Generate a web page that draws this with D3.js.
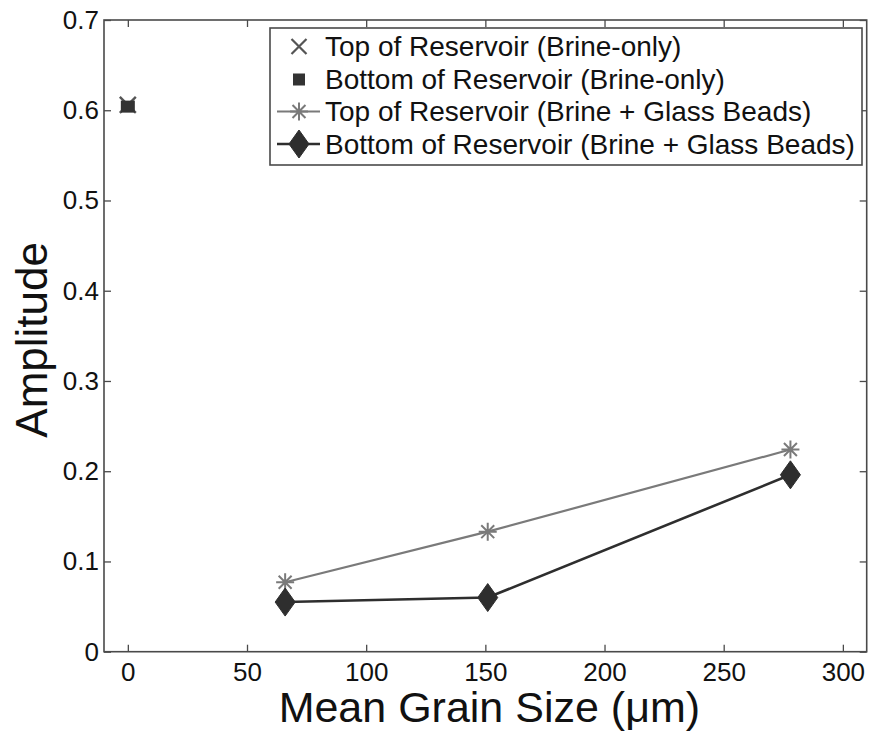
<!DOCTYPE html>
<html>
<head>
<meta charset="utf-8">
<script src="https://cdn.jsdelivr.net/npm/d3@7"></script>
<style>
  body { margin: 0; background: #fff; }
  svg text { font-family: Arial, "Liberation Sans", sans-serif; fill: #111; }
</style>
</head>
<body>
<div id="chart"></div>
<script>
// data
const brineX = [0];
const brineTop = [0.606];
const brineBottom = [0.604];

const grainSize = [66, 151, 278];
const beadsTop = [0.077, 0.133, 0.224];
const beadsBottom = [0.055, 0.060, 0.196];

const xTicks = [0, 50, 100, 150, 200, 250, 300];
const yTicks = [0, 0.1, 0.2, 0.3, 0.4, 0.5, 0.6, 0.7];

const legendLabels = [
    "Top of Reservoir (Brine-only)",
    "Bottom of Reservoir (Brine-only)",
    "Top of Reservoir (Brine + Glass Beads)",
    "Bottom of Reservoir (Brine + Glass Beads)"
];

const margin = {top: 20, right: 4.3, bottom: 82.3, left: 104};
const W = 871, H = 734;
const width = W - margin.left - margin.right;
const height = H - margin.top - margin.bottom;

const frameColor = "#4a4a4a";
const topColor = "#7a7a7a";
const bottomColor = "#2e2e2e";

const svg = d3.select("#chart").append("svg")
    .attr("width", W)
    .attr("height", H);

const g = svg.append("g")
    .attr("transform", "translate(" + margin.left + "," + margin.top + ")");

const x = d3.scaleLinear().domain([-10, 310]).range([0, width]);
const y = d3.scaleLinear().domain([0, 0.7]).range([height, 0]);

// marker shapes
function crossPath(s) {
    return "M" + (-s) + "," + (-s) + "L" + s + "," + s + "M" + (-s) + "," + s + "L" + s + "," + (-s);
}
function starPath(s) {
    let d = "M" + (-s) + ",0L" + s + ",0M0," + (-s) + "L0," + s;
    let k = s * 0.72;
    d += "M" + (-k) + "," + (-k) + "L" + k + "," + k + "M" + (-k) + "," + k + "L" + k + "," + (-k);
    return d;
}
function diamondPath(w, h) {
    return "M0," + (-h) + "L" + w + ",0L0," + h + "L" + (-w) + ",0Z";
}

// axes (box with inward ticks on all sides)
const tickLen = 7;
g.append("g")
    .attr("class", "x-axis axis")
    .attr("transform", "translate(0," + height + ")")
    .call(d3.axisBottom(x).tickValues(xTicks).tickSizeInner(-tickLen).tickSizeOuter(0).tickPadding(11));
g.append("g")
    .attr("class", "x-axis-top axis")
    .call(d3.axisTop(x).tickValues(xTicks).tickSizeInner(-tickLen).tickSizeOuter(0).tickFormat(""));
g.append("g")
    .attr("class", "y-axis axis")
    .call(d3.axisLeft(y).tickValues(yTicks).tickSizeInner(-tickLen).tickSizeOuter(0).tickPadding(5)
        .tickFormat(d => d === 0 ? "0" : d3.format(".1f")(d)));
g.append("g")
    .attr("class", "y-axis-right axis")
    .attr("transform", "translate(" + width + ",0)")
    .call(d3.axisRight(y).tickValues(yTicks).tickSizeInner(-tickLen).tickSizeOuter(0).tickFormat(""));

g.selectAll(".axis path.domain").remove();
g.selectAll(".axis line").attr("stroke", frameColor).attr("stroke-width", 1.3);
g.selectAll(".axis text")
    .attr("font-size", 26)
    .attr("fill", "#1a1a1a")
    .style("font-family", "Arial, 'Liberation Sans', sans-serif");

g.append("rect")
    .attr("x", 0).attr("y", 0)
    .attr("width", width).attr("height", height)
    .attr("fill", "none")
    .attr("stroke", frameColor)
    .attr("stroke-width", 1.6);

// lines
const line = d3.line()
    .x(d => x(d[0]))
    .y(d => y(d[1]));

const topData = grainSize.map((v, i) => [v, beadsTop[i]]);
const bottomData = grainSize.map((v, i) => [v, beadsBottom[i]]);

g.append("path")
    .datum(topData)
    .attr("d", line)
    .attr("fill", "none")
    .attr("stroke", topColor)
    .attr("stroke-width", 2.2);

g.append("path")
    .datum(bottomData)
    .attr("d", line)
    .attr("fill", "none")
    .attr("stroke", bottomColor)
    .attr("stroke-width", 2.6);

g.selectAll(".star")
    .data(topData)
    .enter().append("path")
    .attr("class", "star")
    .attr("transform", d => "translate(" + x(d[0]) + "," + y(d[1]) + ")")
    .attr("d", starPath(9))
    .attr("fill", "none")
    .attr("stroke", topColor)
    .attr("stroke-width", 2);

g.selectAll(".diamond")
    .data(bottomData)
    .enter().append("path")
    .attr("class", "diamond")
    .attr("transform", d => "translate(" + x(d[0]) + "," + y(d[1]) + ")")
    .attr("d", diamondPath(10, 14))
    .attr("fill", bottomColor)
    .attr("stroke", bottomColor)
    .attr("stroke-width", 1);

// brine-only points
g.selectAll(".brine-top")
    .data(brineX.map((v, i) => [v, brineTop[i]]))
    .enter().append("path")
    .attr("class", "brine-top")
    .attr("transform", d => "translate(" + x(d[0]) + "," + y(d[1]) + ")")
    .attr("d", crossPath(8))
    .attr("fill", "none")
    .attr("stroke", "#555")
    .attr("stroke-width", 2.4);

g.selectAll(".brine-bottom")
    .data(brineX.map((v, i) => [v, brineBottom[i]]))
    .enter().append("rect")
    .attr("class", "brine-bottom")
    .attr("x", d => x(d[0]) - 7)
    .attr("y", d => y(d[1]) - 6)
    .attr("width", 14)
    .attr("height", 12)
    .attr("fill", "#333");

// legend
const legend = svg.append("g")
    .attr("transform", "translate(270,28)");

legend.append("rect")
    .attr("width", 592)
    .attr("height", 137)
    .attr("fill", "#fff")
    .attr("stroke", frameColor)
    .attr("stroke-width", 1.6);

const rowY = [18.5, 51.5, 83.5, 116];
const mx = 29;

legendLabels.forEach((label, i) => {
    let row = legend.append("g").attr("transform", "translate(0," + rowY[i] + ")");
    if (i === 0) {
        row.append("path").attr("transform", "translate(" + mx + ",0)")
            .attr("d", crossPath(7.5)).attr("stroke", "#555").attr("stroke-width", 2.2).attr("fill", "none");
    } else if (i === 1) {
        row.append("rect").attr("x", mx - 6).attr("y", -6).attr("width", 12).attr("height", 12).attr("fill", "#333");
    } else if (i === 2) {
        row.append("line").attr("x1", 7).attr("x2", 50).attr("stroke", topColor).attr("stroke-width", 2.2);
        row.append("path").attr("transform", "translate(" + mx + ",0)")
            .attr("d", starPath(9)).attr("stroke", topColor).attr("stroke-width", 2).attr("fill", "none");
    } else {
        row.append("line").attr("x1", 7).attr("x2", 50).attr("stroke", bottomColor).attr("stroke-width", 2.6);
        row.append("path").attr("transform", "translate(" + mx + ",0)")
            .attr("d", diamondPath(10, 14)).attr("fill", bottomColor).attr("stroke", bottomColor);
    }
    row.append("text")
        .attr("x", 55)
        .attr("dy", "0.35em")
        .attr("font-size", 28)
        .text(label);
});

// axis titles
svg.append("text")
    .attr("x", margin.left + width / 2 + 4)
    .attr("y", 722)
    .attr("text-anchor", "middle")
    .attr("font-size", 43)
    .text("Mean Grain Size (\u03bcm)");

svg.append("text")
    .attr("transform", "translate(47," + (margin.top + height / 2 + 4) + ") rotate(-90)")
    .attr("text-anchor", "middle")
    .attr("font-size", 44)
    .text("Amplitude");
</script>
</body>
</html>
